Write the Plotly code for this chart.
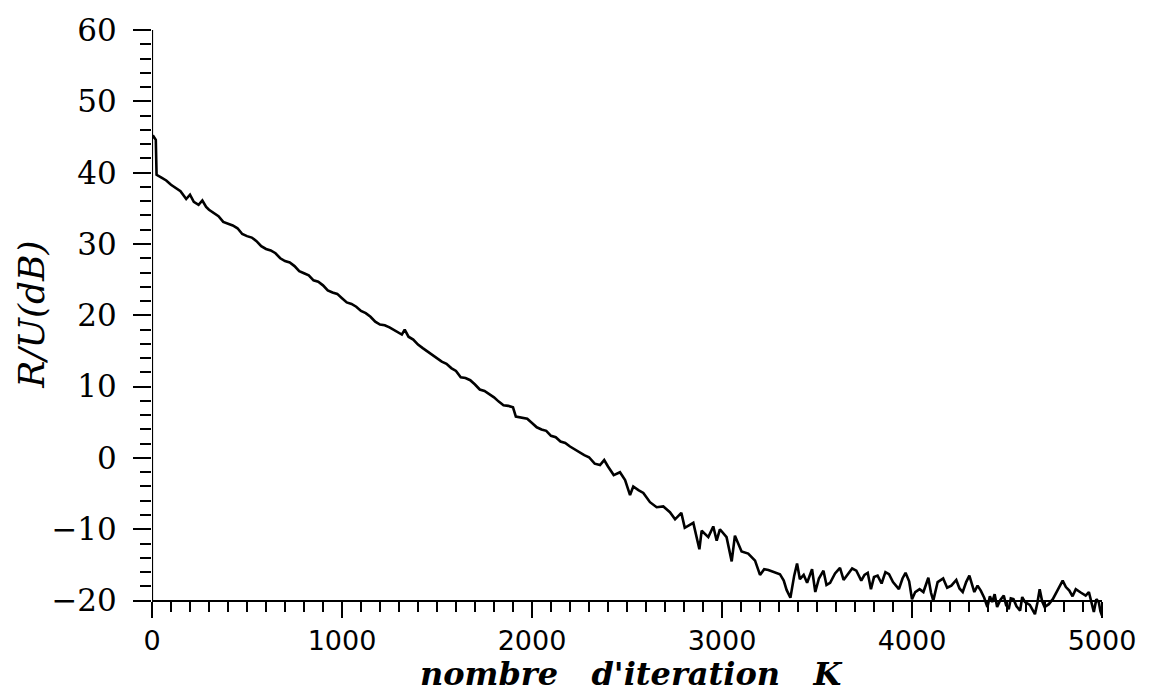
import plotly.graph_objects as go

# Convergence of the R/U ratio (dB) versus iteration number K
iter_k = [
    0, 5, 20, 24, 50, 75, 100, 125, 150, 180, 200, 220, 245, 265, 285,
    300, 325, 350, 375, 400, 425, 450, 475, 500, 525, 550, 575, 600, 625,
    650, 675, 700, 725, 750, 775, 800, 825, 850, 875, 900, 925, 950, 975,
    1000, 1025, 1050, 1075, 1100, 1125, 1150, 1175, 1200, 1225, 1250, 1275,
    1300, 1315, 1330, 1350, 1375, 1400, 1425, 1450, 1475, 1500, 1525, 1550,
    1575, 1600, 1625, 1650, 1675, 1700, 1725, 1750, 1775, 1800, 1825, 1850,
    1875, 1900, 1915, 1950, 1975, 2000, 2025, 2050, 2075, 2100, 2125, 2150,
    2175, 2200, 2225, 2250, 2275, 2300, 2330, 2358, 2380, 2400, 2430, 2463,
    2490, 2516, 2533, 2560, 2586, 2621, 2656, 2691, 2726, 2753, 2786, 2804,
    2849, 2881, 2893, 2928, 2954, 2972, 2989, 3024, 3051, 3068, 3103, 3138,
    3174, 3200, 3222, 3244, 3280, 3305, 3325, 3340, 3360, 3380, 3395, 3410,
    3430, 3448, 3474, 3491, 3510, 3534, 3550, 3569, 3595, 3621, 3640, 3664,
    3685, 3707, 3733, 3750, 3767, 3784, 3800, 3819, 3840, 3860, 3879, 3900,
    3931, 3950, 3966, 3985, 4000, 4017, 4040, 4060, 4086, 4100, 4112, 4135,
    4164, 4185, 4207, 4233, 4250, 4267, 4285, 4302, 4328, 4345, 4362, 4380,
    4397, 4410, 4422, 4435, 4448, 4465, 4483, 4495, 4509, 4520, 4534, 4550,
    4569, 4580, 4595, 4620, 4647, 4660, 4672, 4685, 4698, 4720, 4741, 4765,
    4793, 4810, 4828, 4845, 4862, 4890, 4914, 4931, 4945, 4957, 4970, 4983,
    4992, 5000,
]
snr_db = [
    44.8, 45.2, 44.6, 39.7, 39.3, 38.9, 38.3, 37.9, 37.4, 36.3, 36.9, 35.9,
    35.5, 36.1, 35.2, 34.8, 34.3, 33.9, 33.1, 32.9, 32.6, 32.2, 31.4, 31.1,
    30.9, 30.4, 29.7, 29.3, 29.1, 28.7, 28.0, 27.6, 27.4, 26.9, 26.2, 25.9,
    25.6, 24.9, 24.7, 24.2, 23.5, 23.2, 23.0, 22.4, 21.8, 21.6, 21.2, 20.6,
    20.3, 19.8, 19.1, 18.7, 18.6, 18.3, 17.9, 17.6, 17.3, 18.0, 17.0, 16.6,
    15.9, 15.4, 14.9, 14.4, 14.0, 13.5, 13.2, 12.6, 12.2, 11.3, 11.2, 10.9,
    10.3, 9.6, 9.4, 9.0, 8.5, 7.9, 7.4, 7.3, 7.1, 5.8, 5.6, 5.5, 4.9, 4.3,
    4.0, 3.8, 3.1, 2.9, 2.3, 2.1, 1.6, 1.2, 0.7, 0.4, 0.1, -0.8, -1.0, -0.3,
    -1.2, -2.4, -2.0, -3.1, -5.2, -4.0, -4.5, -4.9, -6.2, -6.9, -6.8, -7.6,
    -8.6, -7.7, -9.8, -9.1, -12.8, -10.2, -11.1, -9.6, -11.6, -10.0, -11.1,
    -14.5, -10.9, -13.1, -13.4, -14.4, -16.4, -15.6, -15.7, -16.0, -16.3,
    -17.2, -18.5, -19.6, -16.5, -14.8, -17.0, -16.4, -17.5, -15.6, -18.8,
    -16.9, -15.8, -17.8, -17.5, -16.2, -15.4, -17.1, -16.3, -15.5, -15.8,
    -17.2, -16.4, -16.1, -18.4, -16.7, -16.5, -17.6, -16.0, -16.3, -17.4,
    -18.4, -16.9, -16.1, -17.3, -19.8, -18.8, -18.4, -18.8, -16.8, -18.9,
    -20.0, -17.4, -16.9, -18.2, -17.9, -17.1, -18.3, -18.8, -17.4, -16.5,
    -18.8, -17.9, -18.6, -19.6, -20.9, -19.4, -20.2, -19.1, -20.9, -19.9,
    -19.3, -20.6, -21.2, -19.7, -19.8, -20.8, -21.4, -19.5, -20.2, -20.6,
    -21.9, -20.3, -18.4, -20.1, -20.9, -20.5, -19.8, -18.6, -17.2, -18.1,
    -18.6, -19.4, -18.4, -18.9, -19.3, -18.8, -20.3, -21.6, -19.8, -20.2,
    -21.5, -22.1,
]

x_ticks = [0, 1000, 2000, 3000, 4000, 5000]
x_ticktext = ["0", "1000", "2000", "3000", "4000", "5000"]
y_ticks = [-20, -10, 0, 10, 20, 30, 40, 50, 60]
y_ticktext = ["\u221220", "\u221210", "0", "10", "20", "30", "40", "50", "60"]
y_minor = [v for v in range(-18, 60, 2) if v % 10 != 0]

Y_LO, Y_HI = -23, 60
X_LO, X_HI = 0, 5000
axis_pos = (y_ticks[0] - Y_LO) / (Y_HI - Y_LO)

fig = go.Figure()
fig.add_trace(go.Scatter(
    x=iter_k, y=snr_db, mode="lines",
    line=dict(color="black", width=2.6),
    showlegend=False, hoverinfo="skip",
))

# vertical axis line from -20 to 60 dB
fig.add_shape(type="line", xref="x", yref="y", x0=0, x1=0,
              y0=y_ticks[0], y1=y_ticks[-1],
              line=dict(color="black", width=2.2))

fig.update_layout(
    width=1174, height=700,
    margin=dict(l=152, r=72, t=24, b=78.4),
    paper_bgcolor="white", plot_bgcolor="white",
    xaxis=dict(
        range=[X_LO, X_HI], anchor="free", position=axis_pos,
        showline=True, linecolor="black", linewidth=2.2,
        showgrid=False, zeroline=False,
        tickmode="array", tickvals=x_ticks, ticktext=x_ticktext,
        ticks="outside", ticklen=16, tickwidth=2, tickcolor="black",
        ticklabelstandoff=0,
        minor=dict(dtick=100, ticks="outside", ticklen=10, tickwidth=2,
                   tickcolor="black", showgrid=False),
        tickfont=dict(family="DejaVu Sans", size=27, color="black"),
    ),
    yaxis=dict(
        range=[Y_LO, Y_HI],
        showline=False, showgrid=False, zeroline=False,
        tickmode="array", tickvals=y_ticks, ticktext=y_ticktext,
        ticks="outside", ticklen=18, tickwidth=2, tickcolor="black",
        ticklabelstandoff=10,
        minor=dict(tickvals=y_minor, ticks="outside", ticklen=11,
                   tickwidth=2, tickcolor="black", showgrid=False),
        tickfont=dict(family="DejaVu Serif", size=31, color="black"),
    ),
)

fig.add_annotation(
    text="<i>R/U(dB)</i>", xref="paper", yref="paper",
    x=-0.127, y=0.5197, xanchor="center", yanchor="middle",
    textangle=-90, showarrow=False,
    font=dict(family="DejaVu Serif", size=36, color="black"),
)
fig.add_annotation(
    text="<b><i>nombre\u00a0\u00a0\u00a0d'iteration\u00a0\u00a0\u00a0K</i></b>",
    xref="paper", yref="paper",
    x=0.505, y=-0.088, xanchor="center", yanchor="middle",
    showarrow=False,
    font=dict(family="DejaVu Serif", size=32, color="black"),
)

fig.write_html("out.html")
